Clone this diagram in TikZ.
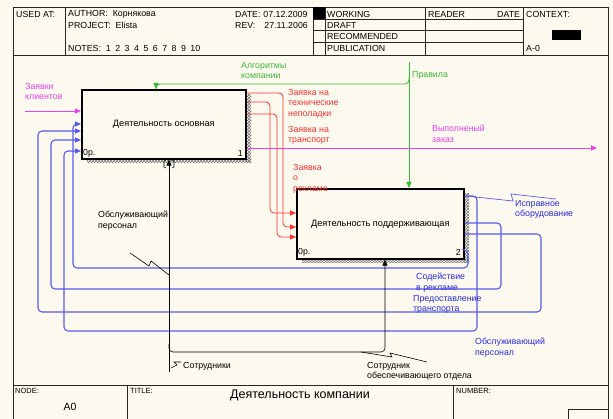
\documentclass[tikz,border=0pt]{standalone}
\usepackage{fontspec}
\setmainfont{Liberation Sans}
\usetikzlibrary{arrows.meta,patterns,calc}
\definecolor{bg}{HTML}{FCF9EE}
\definecolor{mgreen}{HTML}{3CB83C}
\definecolor{mred}{HTML}{FF3030}
\definecolor{mmag}{HTML}{F040F0}
\definecolor{mblue}{HTML}{5A5AF0}
\definecolor{mbluet}{HTML}{2A2AE0}
\tikzset{
  lbl/.style={inner sep=0pt, font=\fontsize{8.8}{10.5}\selectfont, align=left, anchor=north west},
  hdr/.style={inner sep=0pt, font=\fontsize{8.8}{9}\selectfont, anchor=west},
  act/.style={draw=black, line width=1.6pt, fill=bg, inner sep=0pt, anchor=north west, font=\fontsize{9.2}{11}\selectfont},
  arr/.style={-{Triangle[length=6pt,width=5pt]}},
  grn/.style={draw=mgreen, line width=0.8pt},
  rd/.style={draw=mred, line width=0.8pt},
  mg/.style={draw=mmag, line width=0.8pt},
  bl/.style={draw=mblue, line width=1.1pt},
  blk/.style={draw=black, line width=0.6pt},
  frm/.style={draw=black!85, line width=0.6pt},
  shd/.style={pattern=crosshatch, pattern color=black!55},
  rc/.style={rounded corners=4pt}
}
\begin{document}
\begin{tikzpicture}[x=1pt,y=-1pt]
\fill[bg] (0,0) rectangle (613,419);
\useasboundingbox (0,0) rectangle (613,419);

% frame and header
\draw[frm] (13,7) -- (608,7);
\draw[frm] (13,7) -- (13,419);
\draw[frm] (608,7) -- (608,419);
\draw[frm] (13,55) -- (608,55);
\draw[frm] (13,385) -- (608,385);
\foreach \x in {65,313,325,425,523} \draw[frm] (\x,7) -- (\x,55);
\foreach \y in {19,30,42} \draw[frm] (313,\y) -- (523,\y);
\fill[black] (313,7) rectangle (325,19);
\fill[black] (552,30) rectangle (581,40);
\draw[frm] (127,385) -- (127,419);
\draw[frm] (453,385) -- (453,419);
\draw[frm] (568,409) rectangle (608,419);

\node[hdr] (h1) at (16,14) {USED AT:};
\node[hdr] (h2) at (68,14) {AUTHOR:\hspace{5pt}Корнякова};
\node[hdr] (h3) at (68,25) {PROJECT:\hspace{5pt}Elista};
\node[hdr] (h4) at (68,48) {NOTES:\hspace{5pt}1\hspace{4.5pt}2\hspace{4.5pt}3\hspace{4.5pt}4\hspace{4.5pt}5\hspace{4.5pt}6\hspace{4.5pt}7\hspace{4.5pt}8\hspace{4.5pt}9\hspace{4.5pt}10};
\node[hdr] (h5) at (235,14) {DATE:\hspace{3pt}07.12.2009};
\node[hdr] (h6) at (235,25) {REV:\hspace{9pt}27.11.2006};
\node[hdr] (h7) at (327,14) {WORKING};
\node[hdr] (h8) at (327,25) {DRAFT};
\node[hdr] (h9) at (327,36) {RECOMMENDED};
\node[hdr] (h10) at (327,48) {PUBLICATION};
\node[hdr] (h11) at (428,14) {READER};
\node[hdr] (h12) at (497,14) {DATE};
\node[hdr] (h13) at (526,14) {CONTEXT:};
\node[hdr] (h14) at (526,48) {A-0};

\node[hdr, font=\fontsize{7.5}{8}\selectfont] (f1) at (15,391) {NODE:};
\node[inner sep=0pt, font=\fontsize{10.5}{12}\selectfont] (f2) at (70,407) {A0};
\node[hdr, font=\fontsize{7.5}{8}\selectfont] (f3) at (130,391) {TITLE:};
\node[inner sep=0pt, font=\fontsize{12.5}{14}\selectfont] (f4) at (300,395) {Деятельность компании};
\node[hdr, font=\fontsize{7.5}{8}\selectfont] (f5) at (456,391) {NUMBER:};

% shadows
\fill[shd] (246,95) rectangle (251,163);
\fill[shd] (87,159) rectangle (251,163);
\fill[shd] (464,194) rectangle (469,263);
\fill[shd] (302,259) rectangle (469,263);

% boxes
\node[act, minimum width=164pt, minimum height=69pt] (b1) at (81,89) {Деятельность основная};
\node[act, minimum width=167pt, minimum height=70pt] (b2) at (296,188) {Деятельность поддерживающая};
\node[hdr] (b1c) at (83,153) {0р.};
\node[hdr, anchor=east] (b1n) at (243,153) {1};
\node[hdr] (b2c) at (298,252) {0р.};
\node[hdr, anchor=east] (b2n) at (461,252) {2};

% free ends
\coordinate (gtop) at (409,62);
\coordinate (gsplit) at (409,78);
\coordinate (min) at (25,111);
\coordinate (mout) at (597,148);
\coordinate (ktop) at (169,372);
\coordinate (ksplit) at (169,344);

% green
\draw[grn, arr] (gtop) -- (b2.north -| gtop);
\draw[grn, arr, rc] (gsplit) |- (156,84) -- (b1.north -| 156,0);

% magenta
\draw[mg, arr] (min) -- (b1.west |- min);
\draw[mg, arr] (b1.east |- mout) -- (mout);

% red
\draw[rd, arr, rc] (b1.east |- 0,93) -- (283,93) -- (283,227) -- (b2.west |- 0,227);
\draw[rd, arr, rc] (b1.east |- 0,102) -- (270,102) -- (270,213) -- (b2.west |- 0,213);
\draw[rd, arr, rc] (b1.east |- 0,114) -- (277,114) -- (277,237) -- (b2.west |- 0,237);

% blue
\draw[bl, arr, rc] (b2.east |- 0,196) -- (477,196) -- (477,331) -- (64,331) -- (64,151) -- (b1.west |- 0,151);
\draw[bl, arr, rc] (b2.east |- 0,223) -- (501,223) -- (501,289) -- (51,289) -- (51,140) -- (b1.west |- 0,140);
\draw[bl, arr, rc] (b2.east |- 0,234) -- (541,234) -- (541,312) -- (38,312) -- (38,131) -- (b1.west |- 0,131);
\draw[bl, arr, rc] (b2.east |- 0,250) -- (468,250) -- (468,268) -- (73,268) -- (73,124) -- (b1.west |- 0,124);
\draw[draw=mblue, line width=0.7pt] (466,196) -- (513,201) -- (511,194) -- (556,199);

% black mechanisms
\draw[blk, arr] (ktop) -- (b1.south -| ktop);
\draw[blk, arr, rc] (ksplit) |- (385,352) -- (b2.south -| 385,0);
\draw[blk] (166,160) -- (164,161) -- (164,167) -- (166,168);
\draw[blk] (172,160) -- (174,161) -- (174,167) -- (172,168);
\draw[blk] (130,253) -- (149,266) -- (151,261) -- (169,275);
\draw[blk] (171,368) -- (177,365) -- (174,362) -- (181,362);
\draw[blk] (361,352) -- (392,357) -- (390,353) -- (427,362);

% labels
\node[lbl, text=mmag] (l1) at (25,83) {Заявки\\клиентов};
\node[lbl, text=mgreen] (l2) at (241,62) {Алгоритмы\\компании};
\node[lbl, text=mgreen] (l3) at (412,71) {Правила};
\node[lbl, text=mred] (l4) at (288,89) {Заявка на\\технические\\неполадки};
\node[lbl, text=mred] (l5) at (288,126) {Заявка на\\транспорт};
\node[lbl, text=mred] (l6) at (293,164) {Заявка\\о\\рекламе};
\node[lbl, text=mmag] (l7) at (432,125) {Выполненый\\заказ};
\node[lbl, text=mbluet] (l8) at (515,200) {Исправное\\оборудование};
\node[lbl, text=mbluet] (l9) at (416,273) {Содействие\\ в рекламе};
\node[lbl, text=mbluet] (l10) at (413,295) {Предоставление\\транспорта};
\node[lbl, text=mbluet] (l11) at (475,338) {Обслуживающий\\персонал};
\node[lbl] (l12) at (98,211) {Обслуживающий\\персонал};
\node[lbl] (l13) at (183,362) {Сотрудники};
\node[lbl] (l14) at (367,362) {Сотрудник\\обеспечивающего отдела};
\end{tikzpicture}
\end{document}
